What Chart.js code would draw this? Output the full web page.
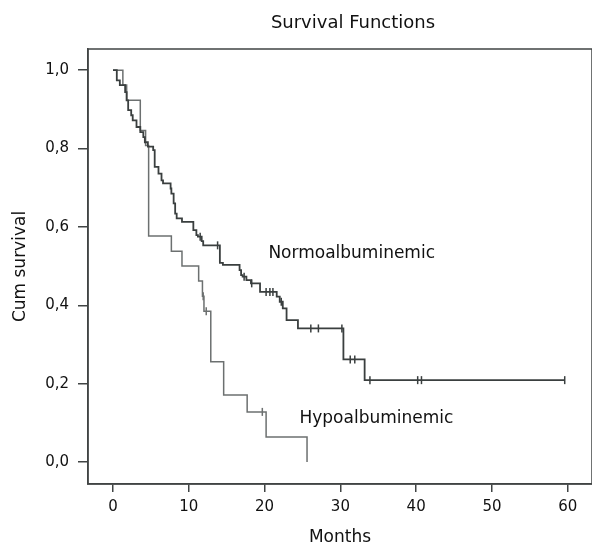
<!DOCTYPE html>
<html>
<head>
<meta charset="utf-8">
<script src="https://cdn.jsdelivr.net/npm/chart.js@4/dist/chart.umd.min.js"></script>
<style>
html,body{margin:0;padding:0;background:#fff;}
canvas{display:block;}
</style>
</head>
<body>
<canvas id="c" width="592" height="544"></canvas>
<script>
// ---- data ----
const normoTimes = [0, 0.5, 0.9, 1.6, 1.8, 2.0, 2.4, 2.6, 3.1, 3.6, 4.0, 4.2, 4.6, 5.3, 5.5, 6.0, 6.4, 6.6, 7.6, 7.7, 8.0, 8.2, 8.4, 9.1, 10.6, 11.0, 11.2, 11.7, 11.9, 14.1, 14.5, 16.7, 16.9, 17.1, 17.6, 18.2, 19.4, 21.6, 22.0, 22.4, 22.9, 24.4, 30.4, 33.2, 59.6];
const normoSurv  = [1.0, 0.974, 0.962, 0.944, 0.923, 0.898, 0.885, 0.872, 0.855, 0.842, 0.829, 0.816, 0.805, 0.796, 0.753, 0.736, 0.719, 0.711, 0.698, 0.685, 0.660, 0.634, 0.622, 0.613, 0.592, 0.579, 0.575, 0.564, 0.553, 0.508, 0.503, 0.490, 0.477, 0.473, 0.464, 0.456, 0.434, 0.422, 0.409, 0.392, 0.362, 0.341, 0.262, 0.209, 0.209];
const normoCensored = [11.5, 13.8, 17.3, 18.3, 20.2, 20.7, 21.1, 22.2, 26.1, 27.1, 30.2, 31.3, 31.9, 33.9, 40.2, 40.7, 59.6];

const hypoTimes = [0, 1.3, 1.8, 3.6, 4.3, 4.7, 7.7, 9.1, 11.3, 11.8, 12.0, 12.9, 14.6, 17.7, 20.2, 25.6];
const hypoSurv  = [1.0, 0.962, 0.923, 0.846, 0.808, 0.577, 0.538, 0.500, 0.462, 0.423, 0.385, 0.256, 0.171, 0.128, 0.064, 0.0];
const hypoCensored = [11.9, 12.3, 19.7];

const xTicks = [0, 10, 20, 30, 40, 50, 60];
const yTicks = [0, 0.2, 0.4, 0.6, 0.8, 1.0];

const seriesNames = ['Normoalbuminemic', 'Hypoalbuminemic'];

// ---- helpers ----
function pts(t, s) { return t.map((v, i) => ({x: v, y: s[i]})); }
function survAt(t, s, x) { let v = s[0]; for (let i = 0; i < t.length; i++) { if (t[i] <= x) v = s[i]; } return v; }
function censorPts(t, s, c) { return c.map(x => ({x: x, y: survAt(t, s, x)})); }

const NORMO = '#3a3f3f';
const HYPO = '#6c7070';
const FONT = '"DejaVu Sans", sans-serif';

const framePlugin = {
  id: 'frame',
  afterDraw(chart) {
    const {ctx, chartArea: a, scales} = chart;
    ctx.save();
    ctx.strokeStyle = '#404444';
    ctx.lineWidth = 1.5;
    ctx.strokeRect(a.left, a.top, a.right - a.left, a.bottom - a.top);
    ctx.fillStyle = '#111';
    ctx.font = '17px ' + FONT;
    ctx.textBaseline = 'middle';
    ctx.textAlign = 'left';
    ctx.fillText(seriesNames[0], scales.x.getPixelForValue(20.5), scales.y.getPixelForValue(0.531));
    ctx.fillText(seriesNames[1], scales.x.getPixelForValue(24.6), scales.y.getPixelForValue(0.112));
    ctx.font = '18px ' + FONT;
    ctx.textAlign = 'center';
    ctx.fillText('Survival Functions', 353, 23);
    ctx.restore();
  }
};

new Chart(document.getElementById('c'), {
  type: 'line',
  data: {
    datasets: [
      {label: seriesNames[0], data: pts(normoTimes, normoSurv), stepped: 'before', borderColor: NORMO, borderWidth: 1.8, pointRadius: 0, fill: false},
      {label: seriesNames[1], data: pts(hypoTimes, hypoSurv), stepped: 'before', borderColor: HYPO, borderWidth: 1.5, pointRadius: 0, fill: false},
      {type: 'scatter', data: censorPts(normoTimes, normoSurv, normoCensored), showLine: false, pointStyle: 'line', rotation: 90, pointRadius: 4, borderColor: NORMO, borderWidth: 1.5},
      {type: 'scatter', data: censorPts(hypoTimes, hypoSurv, hypoCensored), showLine: false, pointStyle: 'line', rotation: 90, pointRadius: 4, borderColor: HYPO, borderWidth: 1.5}
    ]
  },
  options: {
    responsive: false,
    animation: false,
    devicePixelRatio: 1,
    layout: {autoPadding: false, padding: {top: 49, right: 0, left: 0, bottom: 0}},
    plugins: {legend: {display: false}, tooltip: {enabled: false}, title: {display: false}},
    scales: {
      x: {
        type: 'linear', min: -3.3, max: 63.2,
        afterBuildTicks: s => { s.ticks = xTicks.map(v => ({value: v})); },
        afterFit: s => { s.height = 60; s.paddingLeft = 0; s.paddingRight = 0; },
        grid: {display: true, drawOnChartArea: false, drawTicks: true, tickLength: 8, color: '#404444', lineWidth: 1.5},
        border: {display: true, color: '#404444', width: 1.5},
        ticks: {color: '#111', font: {family: FONT, size: 15}, padding: 6, maxRotation: 0, callback: v => String(v)},
        title: {display: true, text: 'Months', color: '#111', font: {family: FONT, size: 17, lineHeight: 0.8}, padding: {top: 0, bottom: 0}}
      },
      y: {
        type: 'linear', min: -0.056, max: 1.054,
        afterBuildTicks: s => { s.ticks = yTicks.map(v => ({value: v})); },
        afterFit: s => { s.width = 88; s.paddingTop = 0; s.paddingBottom = 0; },
        grid: {display: true, drawOnChartArea: false, drawTicks: true, tickLength: 10, color: '#404444', lineWidth: 1.5},
        border: {display: true, color: '#404444', width: 1.5},
        ticks: {color: '#111', font: {family: FONT, size: 15}, padding: 9, callback: v => v.toFixed(1).replace('.', ',')},
        title: {display: true, text: 'Cum survival', color: '#111', font: {family: FONT, size: 17}, padding: {top: 10, bottom: 0}}
      }
    }
  },
  plugins: [framePlugin]
});
</script>
</body>
</html>
